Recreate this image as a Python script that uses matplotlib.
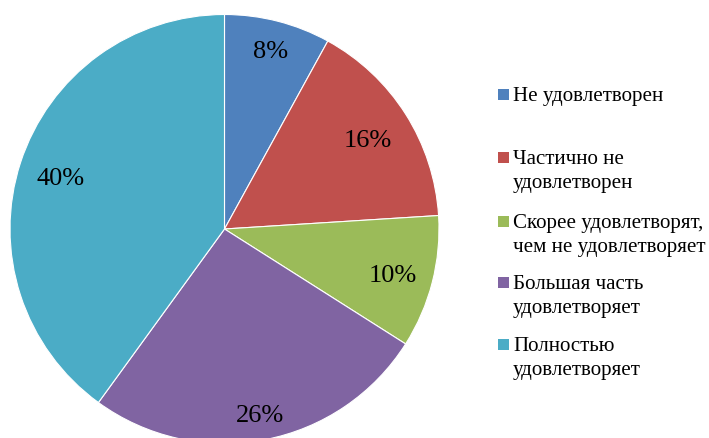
import matplotlib
matplotlib.use("Agg")
import numpy as np
import matplotlib.pyplot as plt
from matplotlib.patches import Rectangle

categories = ["Не удовлетворен", "Частично не\nудовлетворен",
              "Скорее удовлетворят,\nчем не удовлетворяет",
              "Большая часть\nудовлетворяет", "Полностью\nудовлетворяет"]
values = [8, 16, 10, 26, 40]
colors = ["#4F81BD", "#C0504D", "#9BBB59", "#8064A2", "#4BACC6"]

plt.rcParams['font.family'] = ['Liberation Serif', 'DejaVu Serif']

W, H = 709, 439
fig = plt.figure(figsize=(W / 100, H / 100), dpi=100)
ax = fig.add_axes([0, 0, 1, 1])
ax.set_xlim(0, W)
ax.set_ylim(0, H)
ax.set_aspect('equal')
ax.axis('off')

cx, cy, R = 224.5, H - 230, 214.5
wedges, texts, autotexts = ax.pie(
    values, colors=colors, startangle=90, counterclock=False,
    center=(cx, cy), radius=R,
    autopct=lambda p: f"{p:.0f}%", pctdistance=0.83,
    wedgeprops=dict(edgecolor='white', linewidth=0.8),
    textprops=dict(fontsize=19, color='black'))
ax.set_xlim(0, W)
ax.set_ylim(0, H)

# label placement (best-fit style radial distances)
label_dist = [0.868, 0.793, 0.81, 0.871, 0.803]
for w, t, d in zip(wedges, autotexts, label_dist):
    a = np.deg2rad((w.theta1 + w.theta2) / 2)
    t.set_position((cx + d * R * np.cos(a), cy + d * R * np.sin(a) - 2.5))

# legend (manual layout)
entry_top = [95, 158, 222, 283, 345]
for i, (lab, col) in enumerate(zip(categories, colors)):
    yc = H - entry_top[i]
    ax.add_patch(Rectangle((498.5, yc - 5.5), 11, 11, facecolor=col, edgecolor='none'))
    ax.text(513, yc + 8.3, lab, fontsize=15.1, va='top', ha='left',
            linespacing=1.38, color='black')

fig.savefig("out.png", dpi=100)
